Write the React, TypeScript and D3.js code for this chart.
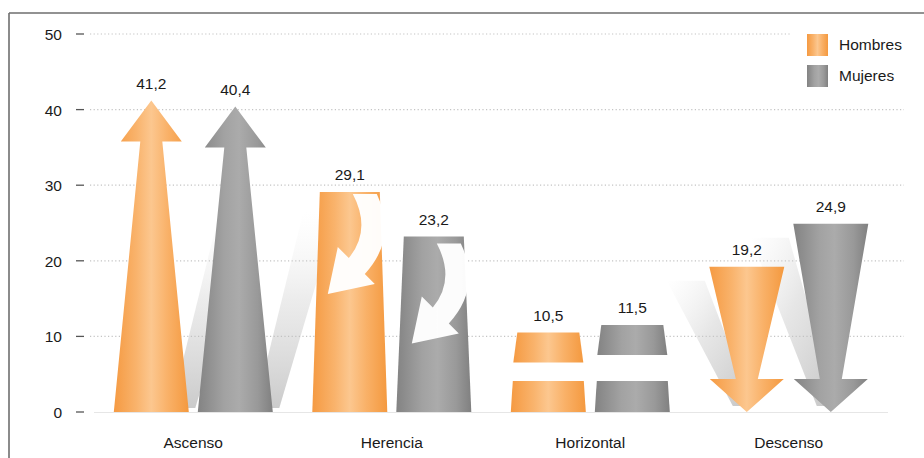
import React from "react";
import * as d3 from "d3";

const categories = ["Ascenso", "Herencia", "Horizontal", "Descenso"];
const series = ["Hombres", "Mujeres"];
const hombres = [41.2, 29.1, 10.5, 19.2];
const mujeres = [40.4, 23.2, 11.5, 24.9];
const yTicks = [0, 10, 20, 30, 40, 50];

const W = 924;
const H = 458;
const FONT = "'Liberation Sans', Arial, Helvetica, sans-serif";

const x = d3.scaleBand<string>().domain(categories).range([94, 888]);
const xs = d3.scalePoint<string>().domain(series).range([-42, 42]);
const y = d3.scaleLinear().domain([0, 50]).range([412, 34]);

const fmt = (v: number) => v.toFixed(1).replace(".", ",");

const HALF = 37.5;

function pts(p: [number, number][]) {
  return "M" + p.map((q) => q[0].toFixed(1) + "," + q[1].toFixed(1)).join("L") + "Z";
}

function upArrow(cx: number, v: number) {
  const y0 = y(0);
  const yt = y(v);
  const hb = yt + 41;
  return pts([
    [cx - HALF, y0],
    [cx - 11, hb],
    [cx - 30.5, hb],
    [cx, yt],
    [cx + 30.5, hb],
    [cx + 11, hb],
    [cx + HALF, y0],
  ]);
}

function downArrow(cx: number, v: number) {
  const y0 = y(0);
  const yt = y(v);
  const hb = y0 - 33;
  return pts([
    [cx - HALF, yt],
    [cx + HALF, yt],
    [cx + 11, hb],
    [cx + 37, hb],
    [cx, y0],
    [cx - 37, hb],
    [cx - 11, hb],
  ]);
}

function trapezoid(cx: number, yTop: number, yBot: number, hwTop: number, hwBot: number) {
  return pts([
    [cx - hwBot, yBot],
    [cx - hwTop, yTop],
    [cx + hwTop, yTop],
    [cx + hwBot, yBot],
  ]);
}

function curvedArrow(cx: number, yt: number) {
  const p = (dx: number, dy: number) => `${(cx + dx).toFixed(1)},${(yt + dy).toFixed(1)}`;
  return (
    `M${p(3, 2)} L${p(27, 2)} Q${p(48, 46)} ${p(15, 82)} L${p(25, 92)} L${p(-22, 102)} ` +
    `L${p(-12, 55)} L${p(-1, 66)} Q${p(22, 38)} ${p(3, 2)} Z`
  );
}

export default function App() {
  const rows = categories.map((c, i) => ({ cat: c, idx: i, vals: [hombres[i], mujeres[i]] }));
  const cxOf = (cat: string, s: string) => (x(cat) as number) + x.bandwidth() / 2 + (xs(s) as number);
  const y0 = y(0);

  const marks: React.ReactNode[] = [];
  const shadows: React.ReactNode[] = [];
  const overlays: React.ReactNode[] = [];
  const labels: React.ReactNode[] = [];

  rows.forEach((r) => {
    series.forEach((s, si) => {
      const v = r.vals[si];
      const cx = cxOf(r.cat, s);
      const fill = si === 0 ? "url(#gOrange)" : "url(#gGray)";
      const key = r.cat + s;
      if (r.idx === 0) {
        shadows.push(
          <path
            key={"sh" + key}
            d={pts([
              [cx + 20, y0 - 4],
              [cx + 44, y0 - 4],
              [cx + 102, y0 - 200],
              [cx + 68, y0 - 200],
            ])}
            fill="url(#gShadowUp)"
          />
        );
        marks.push(<path key={key} d={upArrow(cx, v)} fill={fill} />);
      } else if (r.idx === 1) {
        marks.push(<path key={key} d={trapezoid(cx, y(v), y0, 30, HALF)} fill={fill} />);
        overlays.push(
          <path key={"w" + key} d={curvedArrow(cx, y(v) + (si === 0 ? 0 : 5))} fill="#ffffff" opacity={0.97} />
        );
      } else if (r.idx === 2) {
        marks.push(<path key={key + "a"} d={trapezoid(cx, y(v), y(v) + 30, 31, 35)} fill={fill} />);
        marks.push(<path key={key + "b"} d={trapezoid(cx, y0 - 31, y0, 35.5, HALF)} fill={fill} />);
      } else {
        const yt = y(v);
        shadows.push(
          <path
            key={"sh" + key}
            d={pts([
              [cx - 80, yt + 14],
              [cx - 42, yt + 14],
              [cx + 6, y0 - 6],
              [cx - 14, y0 - 6],
            ])}
            fill="url(#gShadowDown)"
          />
        );
        marks.push(<path key={key} d={downArrow(cx, v)} fill={fill} />);
      }
      labels.push(
        <text key={"l" + key} x={cx} y={y(v) - 12} textAnchor="middle" fontSize={15.5} fill="#1a1a1a">
          {fmt(v)}
        </text>
      );
    });
  });

  return (
    <svg
      width={W}
      height={H}
      viewBox={`0 0 ${W} ${H}`}
      style={{ position: "absolute", left: 0, top: 0, display: "block", background: "#fff" }}
      fontFamily={FONT}
    >
      <defs>
        <linearGradient id="gOrange" x1="0" x2="1" y1="0" y2="0">
          <stop offset="0%" stopColor="#f59a42" />
          <stop offset="30%" stopColor="#f9b36c" />
          <stop offset="50%" stopColor="#fcc78f" />
          <stop offset="72%" stopColor="#f9b168" />
          <stop offset="100%" stopColor="#f4993f" />
        </linearGradient>
        <linearGradient id="gGray" x1="0" x2="1" y1="0" y2="0">
          <stop offset="0%" stopColor="#838383" />
          <stop offset="35%" stopColor="#a2a2a2" />
          <stop offset="55%" stopColor="#ababab" />
          <stop offset="80%" stopColor="#999999" />
          <stop offset="100%" stopColor="#808080" />
        </linearGradient>
        <linearGradient id="gShadowUp" x1="0" x2="0" y1="1" y2="0">
          <stop offset="0%" stopColor="#a8a8a8" stopOpacity={0.6} />
          <stop offset="55%" stopColor="#c8c8c8" stopOpacity={0.35} />
          <stop offset="100%" stopColor="#e6e6e6" stopOpacity={0} />
        </linearGradient>
        <linearGradient id="gShadowDown" x1="0" x2="1" y1="0" y2="1">
          <stop offset="0%" stopColor="#e0e0e0" stopOpacity={0} />
          <stop offset="45%" stopColor="#c8c8c8" stopOpacity={0.45} />
          <stop offset="100%" stopColor="#aaaaaa" stopOpacity={0.7} />
        </linearGradient>
      </defs>

      {/* gridlines */}
      {yTicks.map((t) => (
        <g key={"g" + t}>
          {t > 0 && (
            <line
              x1={90}
              x2={904}
              y1={y(t)}
              y2={y(t)}
              stroke="#c4c4c4"
              strokeWidth={1.2}
              strokeDasharray="1.2,2.4"
            />
          )}
          <line x1={76} x2={84} y1={y(t)} y2={y(t)} stroke="#555" strokeWidth={1.3} />
          <text x={62} y={y(t) + 6} textAnchor="end" fontSize={15.5} fill="#1a1a1a">
            {t}
          </text>
        </g>
      ))}
      <line x1={94} x2={888} y1={y0 + 0.5} y2={y0 + 0.5} stroke="#e6e6e6" strokeWidth={1} />

      {shadows}
      {marks}
      {overlays}
      {labels}

      {categories.map((c) => (
        <text
          key={"c" + c}
          x={(x(c) as number) + x.bandwidth() / 2}
          y={448}
          textAnchor="middle"
          fontSize={15.5}
          fill="#1a1a1a"
        >
          {c}
        </text>
      ))}

      {/* legend */}
      <rect x={790} y={24} width={114} height={72} fill="#ffffff" />
      {series.map((s, i) => (
        <g key={"lg" + s}>
          <rect
            x={807}
            y={34 + i * 31}
            width={21}
            height={22}
            fill={i === 0 ? "url(#gOrange)" : "url(#gGray)"}
          />
          <text x={839} y={50 + i * 31} fontSize={15.5} fill="#1a1a1a">
            {s}
          </text>
        </g>
      ))}

      {/* frame */}
      <line x1={9} x2={W} y1={13} y2={13} stroke="#6e6e6e" strokeWidth={1.6} />
      <line x1={9} x2={9} y1={13} y2={H} stroke="#6e6e6e" strokeWidth={1.6} />
    </svg>
  );
}
